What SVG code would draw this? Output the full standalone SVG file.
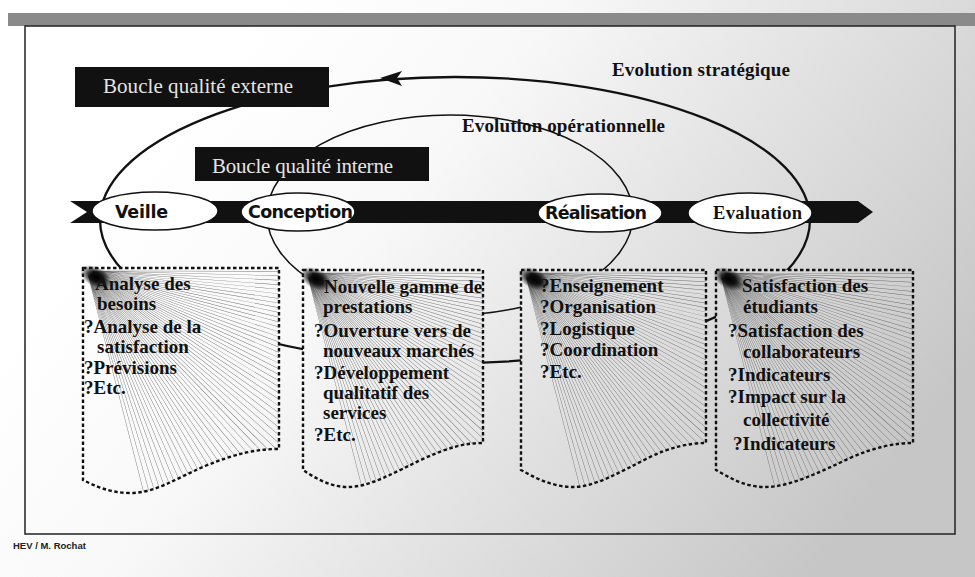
<svg xmlns="http://www.w3.org/2000/svg" xmlns:xlink="http://www.w3.org/1999/xlink" width="975" height="577" viewBox="0 0 975 577">
<style>
.item{font-family:"Liberation Serif","Times New Roman",serif;font-weight:bold;font-size:19px;fill:#111}
.node{font-family:"DejaVu Sans",Verdana,sans-serif;font-weight:bold;font-size:17.5px;fill:#111}
.nodeser{font-family:"Liberation Serif","Times New Roman",serif;font-weight:bold;font-size:18.5px;fill:#111}
.lbl{font-family:"Liberation Serif","Times New Roman",serif;font-size:21px;fill:#e4e4e4}
.evo{font-family:"Liberation Serif","Times New Roman",serif;font-weight:bold;font-size:19px;fill:#111}
.foot{font-family:"Liberation Sans",Arial,sans-serif;font-weight:bold;font-size:9.5px;fill:#222}
.oval{fill:#fff;stroke:#111;stroke-width:1.5}
.boxfill{fill:url(#bg);stroke:none}
.boxline{fill:none;stroke:#111;stroke-width:2.4;stroke-dasharray:3.5 2.5}
.loop{fill:none;stroke:#111}
.blob{fill:url(#blobg)}
</style>
<defs>
<linearGradient id="bg" gradientUnits="userSpaceOnUse" x1="200" y1="80" x2="820" y2="560">
<stop offset="0" stop-color="#ffffff"/>
<stop offset="0.3" stop-color="#f8f8f8"/>
<stop offset="0.6" stop-color="#e2e2e2"/>
<stop offset="1" stop-color="#c6c6c6"/>
</linearGradient>
<radialGradient id="blobg">
<stop offset="0" stop-color="#000" stop-opacity="1"/>
<stop offset="0.45" stop-color="#000" stop-opacity="0.85"/>
<stop offset="1" stop-color="#000" stop-opacity="0"/>
</radialGradient>
<path id="fan" d="M170,0 A170,170 0 0 1 41.1,164.9" fill="none" stroke="#6a6a6a" stroke-width="330" stroke-dasharray="0.4 3.6"/>
<path id="b1" d="M83,268 H279 V449 C255,449 235,454 205,466 C175,479 155,493 130,493 C110,493 95,486 83,480 Z"/>
<path id="b2" d="M303,270 H483 V443 C465,443 450,447 425,458 C395,472 370,487 348,487 C330,487 315,478 303,470 Z"/>
<path id="b3" d="M521,270 H706 V443 C690,443 670,447 648,458 C620,472 595,487 573,487 C553,487 535,478 521,470 Z"/>
<path id="b4" d="M716,270 H913 V443 C895,443 875,447 850,458 C820,472 790,487 765,487 C745,487 730,478 716,470 Z"/>
<clipPath id="c1"><use xlink:href="#b1"/></clipPath>
<clipPath id="c2"><use xlink:href="#b2"/></clipPath>
<clipPath id="c3"><use xlink:href="#b3"/></clipPath>
<clipPath id="c4"><use xlink:href="#b4"/></clipPath>
</defs>

<rect x="0" y="0" width="975" height="577" fill="url(#bg)"/>
<rect x="8" y="13" width="967" height="13" fill="#8a8a8a"/>
<rect x="25" y="26" width="930" height="508" fill="none" stroke="#222" stroke-width="1.5"/>

<g id="connectors">
<ellipse class="loop" cx="455" cy="220" rx="355" ry="143" stroke-width="2.3"/>
<ellipse class="loop" cx="450" cy="215" rx="183" ry="100" stroke-width="1.5"/>
<polygon points="380,78 402,71 397,78 402,86" fill="#111"/>
</g>

<g id="flow-band">
<polygon points="70,201 858,201 873,212 858,223 70,223 87,212" fill="#111"/>
</g>

<g id="node-veille">
<ellipse class="oval" cx="155" cy="211" rx="63" ry="19"/>
<text class="node" x="115" y="218" textLength="53">Veille</text>
</g>
<g id="node-conception">
<ellipse class="oval" cx="298" cy="212" rx="57" ry="19"/>
<text class="node" x="248" y="218" textLength="105">Conception</text>
</g>
<g id="node-realisation">
<ellipse class="oval" cx="600" cy="213" rx="62" ry="19"/>
<text class="node" x="545" y="219" textLength="102">Réalisation</text>
</g>
<g id="node-evaluation">
<ellipse class="oval" cx="750" cy="213" rx="62" ry="20" stroke-width="2.6"/>
<text class="nodeser" x="713" y="219" textLength="89">Evaluation</text>
</g>

<g id="box-veille">
<use xlink:href="#b1" class="boxfill"/>
<g clip-path="url(#c1)"><use xlink:href="#fan" x="87" y="271"/></g>
<ellipse class="blob" cx="96" cy="277" rx="17" ry="10" transform="rotate(28 96 277)"/>
<use xlink:href="#b1" class="boxline"/>
<text class="item" x="95" y="290">Analyse des</text>
<text class="item" x="97" y="310">besoins</text>
<text class="item" x="84" y="333">?Analyse de la</text>
<text class="item" x="97" y="353">satisfaction</text>
<text class="item" x="84" y="374">?Prévisions</text>
<text class="item" x="84" y="394">?Etc.</text>
</g>

<g id="box-conception">
<use xlink:href="#b2" class="boxfill"/>
<g clip-path="url(#c2)"><use xlink:href="#fan" x="307" y="273"/></g>
<ellipse class="blob" cx="316" cy="279" rx="17" ry="10" transform="rotate(28 316 279)"/>
<use xlink:href="#b2" class="boxline"/>
<text class="item" x="324" y="293">Nouvelle gamme de</text>
<text class="item" x="323" y="313">prestations</text>
<text class="item" x="314" y="337">?Ouverture vers de</text>
<text class="item" x="323" y="357">nouveaux marchés</text>
<text class="item" x="314" y="379">?Développement</text>
<text class="item" x="323" y="399">qualitatif des</text>
<text class="item" x="323" y="419">services</text>
<text class="item" x="314" y="441">?Etc.</text>
</g>

<g id="box-realisation">
<use xlink:href="#b3" class="boxfill"/>
<g clip-path="url(#c3)"><use xlink:href="#fan" x="525" y="273"/></g>
<ellipse class="blob" cx="534" cy="279" rx="17" ry="10" transform="rotate(28 534 279)"/>
<use xlink:href="#b3" class="boxline"/>
<text class="item" x="540" y="292">?Enseignement</text>
<text class="item" x="540" y="313">?Organisation</text>
<text class="item" x="540" y="335">?Logistique</text>
<text class="item" x="540" y="356">?Coordination</text>
<text class="item" x="540" y="378">?Etc.</text>
</g>

<g id="box-evaluation">
<use xlink:href="#b4" class="boxfill"/>
<g clip-path="url(#c4)"><use xlink:href="#fan" x="720" y="273"/></g>
<ellipse class="blob" cx="729" cy="279" rx="17" ry="10" transform="rotate(28 729 279)"/>
<use xlink:href="#b4" class="boxline"/>
<text class="item" x="742" y="292">Satisfaction des</text>
<text class="item" x="743" y="313">étudiants</text>
<text class="item" x="728" y="337">?Satisfaction des</text>
<text class="item" x="743" y="358">collaborateurs</text>
<text class="item" x="728" y="381">?Indicateurs</text>
<text class="item" x="728" y="403">?Impact sur la</text>
<text class="item" x="743" y="426">collectivité</text>
<text class="item" x="733" y="450">?Indicateurs</text>
</g>

<g id="label-externe">
<rect x="75" y="67" width="254" height="40" fill="#111"/>
<text class="lbl" x="103" y="93" textLength="190">Boucle qualité externe</text>
</g>
<g id="label-interne">
<rect x="195" y="147" width="234" height="34" fill="#111"/>
<text class="lbl" x="212" y="173" font-size="20.5" textLength="181">Boucle qualité interne</text>
</g>

<g id="label-strategique">
<text class="evo" x="612" y="76" textLength="178">Evolution stratégique</text>
</g>
<g id="label-operationnelle">
<text class="evo" x="462" y="132" textLength="203">Evolution opérationnelle</text>
</g>

<text class="foot" x="13" y="549">HEV / M. Rochat</text>
</svg>
